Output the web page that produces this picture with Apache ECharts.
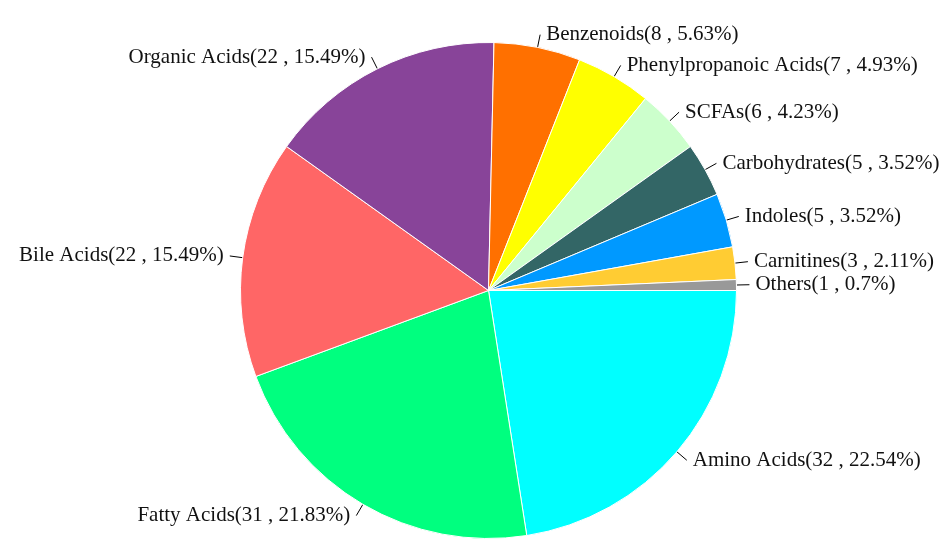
<!DOCTYPE html>
<html><head><meta charset="utf-8">
<script src="https://cdn.jsdelivr.net/npm/echarts@6/dist/echarts.min.js"></script>
<style>html,body{margin:0;padding:0;background:#fff}#c{width:947px;height:540px}</style>
</head><body><div id="c"></div>
<script>
const categories = ['Amino Acids','Fatty Acids','Bile Acids','Organic Acids','Benzenoids','Phenylpropanoic Acids','SCFAs','Carbohydrates','Indoles','Carnitines','Others'];
const counts = [32,31,22,22,8,7,6,5,5,3,1];
const colors = ['#00FFFF','#00FF7F','#FF6666','#884499','#FF7000','#FFFF00','#CCFFCC','#336666','#0099FF','#FFCC33','#999999'];
const total = counts.reduce((a,b)=>a+b,0);
const chart = echarts.init(document.getElementById('c'));
chart.setOption({
  animation:false,
  color: colors,
  series:[{
    type:'pie',
    center:[488.5,290.5],
    radius:[0,248],
    startAngle:0,
    clockwise:true,
    avoidLabelOverlap:true,
    data: categories.map((n,i)=>({name:n,value:counts[i]})),
    itemStyle:{borderColor:'#fff',borderWidth:1},
    label:{
      formatter:p=>p.name+'('+p.value+' , '+Number((p.value/total*100).toFixed(2))+'%)',
      fontFamily:'Liberation Serif',fontSize:21,color:'#111',
      overflow:'none',distanceToLabelLine:6},
    labelLine:{length:13,length2:0,lineStyle:{color:'#000',width:1}}
  }]
});
</script></body></html>
